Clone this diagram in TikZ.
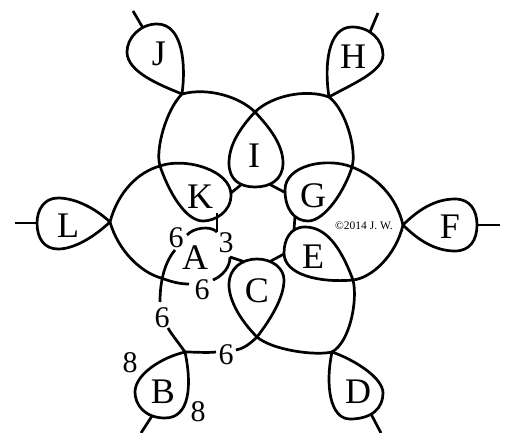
\documentclass[tikz,border=0pt]{standalone}
\usepackage{fontspec}
\setmainfont{Liberation Serif}
\begin{document}
\begin{tikzpicture}[
  x=1pt, y=-1pt,
  ringline/.style={line width=2.7pt, line join=round},
  chainline/.style={line width=2.7pt},
  thread/.style={line width=2.7pt},
  rlabel/.style={font=\fontsize{36}{36}\selectfont, inner sep=0pt},
  stitchnum/.style={font=\fontsize{30}{30}\selectfont, inner sep=0pt},
]
\useasboundingbox (0,0) rectangle (506,433);

% ------------------------------------------------------------ ring points
\coordinate (Jp) at (182,94);
\coordinate (Hp) at (329,97);
\coordinate (Ip) at (255,112);
\coordinate (Kp) at (160,166);
\coordinate (Gp) at (352,167);
\coordinate (Lp) at (110,222);
\coordinate (Fp) at (403,225);
\coordinate (Ep) at (353,280);
\coordinate (Cp) at (257,337);
\coordinate (Dp) at (332,352);
\coordinate (Bp) at (185,352);
\coordinate (Ax) at (161,278);
\coordinate (Aj) at (230,257);

% ------------------------------------------------------------ outer rings
\draw[ringline] (Jp) .. controls (186,65) and (183,24) .. (157,24)
  .. controls (140,24) and (127,38) .. (127,52)
  .. controls (127,72) and (160,85) .. cycle;
\draw[ringline] (Hp) .. controls (324,65) and (328,27) .. (352,27)
  .. controls (370,27) and (383,40) .. (383,55)
  .. controls (383,72) and (350,85) .. cycle;
\draw[ringline] (Lp) .. controls (95,208) and (75,198) .. (58,198)
  .. controls (44,198) and (37,210) .. (37,223)
  .. controls (37,238) and (44,249) .. (58,249)
  .. controls (75,249) and (95,236) .. cycle;
\draw[ringline] (Fp) .. controls (418,210) and (435,199) .. (455,199)
  .. controls (470,199) and (477,210) .. (477,225)
  .. controls (477,240) and (470,251) .. (455,251)
  .. controls (435,251) and (418,240) .. cycle;
\draw[ringline] (Dp) .. controls (325,385) and (330,419) .. (350,419)
  .. controls (372,419) and (383,408) .. (383,393)
  .. controls (383,378) and (355,360) .. cycle;
\draw[ringline] (Bp) .. controls (192,385) and (190,418) .. (165,418)
  .. controls (145,418) and (135,405) .. (135,392)
  .. controls (135,375) and (160,358) .. cycle;

% ------------------------------------------------------------ inner rings
\draw[ringline] (Ip) .. controls (240,128) and (229,145) .. (229,163)
  .. controls (229,180) and (240,187) .. (255,187)
  .. controls (270,187) and (283,180) .. (283,163)
  .. controls (283,145) and (270,128) .. cycle;
\draw[ringline] (Kp) .. controls (185,157) and (231,170) .. (231,195)
  .. controls (231,212) and (215,221) .. (203,221)
  .. controls (185,221) and (168,190) .. cycle;
\draw[ringline] (Gp) .. controls (327,157) and (285,165) .. (285,190)
  .. controls (285,210) and (295,221) .. (308,221)
  .. controls (325,221) and (345,190) .. cycle;
\draw[ringline] (Ep) .. controls (340,245) and (325,227) .. (305,227)
  .. controls (290,227) and (284,240) .. (284,253)
  .. controls (284,275) and (320,283) .. cycle;
\draw[ringline] (Cp) .. controls (240,320) and (229,300) .. (229,285)
  .. controls (229,268) and (242,259) .. (257,259)
  .. controls (272,259) and (284,268) .. (284,280)
  .. controls (284,298) and (270,320) .. cycle;

% ------------------------------------------------------------ threads
\coordinate (Jt) at (133,11);  \coordinate (Jr) at (143,28);
\coordinate (Ht) at (378,13);  \coordinate (Hr) at (370,32);
\coordinate (Lt) at (15,223);  \coordinate (Lr) at (37,223);
\coordinate (Ft) at (500,225); \coordinate (Fr) at (477,225);
\coordinate (Dt) at (381,433); \coordinate (Dr) at (371,414);
\coordinate (Bt) at (141,433); \coordinate (Br) at (152,416);
\draw[thread] (Jr) -- (Jt);
\draw[thread] (Hr) -- (Ht);
\draw[thread] (Lr) -- (Lt);
\draw[thread] (Fr) -- (Ft);
\draw[thread] (Dr) -- (Dt);
\draw[thread] (Br) -- (Bt);

% ------------------------------------------------------------ chains
\draw[chainline] (Jp) .. controls (208,87) and (240,97) .. (Ip);
\draw[chainline] (Hp) .. controls (304,88) and (270,97) .. (Ip);
\draw[chainline] (Jp) .. controls (166,110) and (155,150) .. (Kp);
\draw[chainline] (Hp) .. controls (346,110) and (357,150) .. (Gp);
\draw[chainline] (Lp) .. controls (118,192) and (138,172) .. (Kp);
\draw[chainline] (Fp) .. controls (396,195) and (375,176) .. (Gp);
\draw[chainline] (Fp) .. controls (396,255) and (372,278) .. (Ep);
\draw[chainline] (Dp) .. controls (350,342) and (358,300) .. (Ep);
\draw[chainline] (Dp) .. controls (315,356) and (272,350) .. (Cp);

% lower-left, with stitch counts
\coordinate (a1) at (189,284); \coordinate (a2) at (213,280);
\coordinate (a3) at (187,235); \coordinate (a4) at (217,232);
\coordinate (a5) at (175,250); \coordinate (a6) at (160,302);
\coordinate (b1) at (168,328); \coordinate (b2) at (216,352);
\coordinate (b3) at (236,350);
\draw[chainline] (Lp) .. controls (118,250) and (140,272) .. (Ax)
  .. controls (172,282) and (180,284) .. (a1);
\draw[chainline] (a2) .. controls (222,276) and (230,268) .. (Aj);
\draw[chainline] (a6) .. controls (160,280) and (165,262) .. (a5);
\draw[chainline] (a3) .. controls (193,228) and (210,225) .. (a4);
\draw[chainline] (Bp) .. controls (178,342) and (172,335) .. (b1);
\draw[chainline] (Bp) .. controls (195,352) and (207,353) .. (b2);
\draw[chainline] (b3) .. controls (242,349) and (249,345) .. (Cp);

% short joins between rings
\draw[chainline] (231,193) -- (242,184);
\draw[chainline] (269,184) -- (286,193);
\draw[chainline] (295,216) -- (294,230);
\draw[chainline] (269,262) -- (284,254);
\draw[chainline] (a4) -- (217,213);
\draw[chainline] (Aj) -- (245,262);

% ------------------------------------------------------------ labels
\node[rlabel] (J) at (159,54) {J};
\node[rlabel] (H) at (353,57) {H};
\node[rlabel] (I) at (254,156) {I};
\node[rlabel] (K) at (200,197) {K};
\node[rlabel] (G) at (313,196) {G};
\node[rlabel] (L) at (68,226) {L};
\node[rlabel] (F) at (450,227) {F};
\node[rlabel] (E) at (313,257) {E};
\node[rlabel] (A) at (195,258) {A};
\node[rlabel] (C) at (257,291) {C};
\node[rlabel] (D) at (358,392) {D};
\node[rlabel] (B) at (163,392) {B};

\node[stitchnum] (n1) at (176,238) {6};
\node[stitchnum] (n2) at (226,243) {3};
\node[stitchnum] (n3) at (202,290) {6};
\node[stitchnum] (n4) at (162,318) {6};
\node[stitchnum] (n5) at (226,355) {6};
\node[stitchnum] (n6) at (130,363) {8};
\node[stitchnum] (n7) at (198,412) {8};

\node[font=\fontsize{11.5}{11.5}\selectfont, inner sep=0pt] (copy) at (364,226)
  {\textcopyright2014 J. W.};
\end{tikzpicture}
\end{document}
